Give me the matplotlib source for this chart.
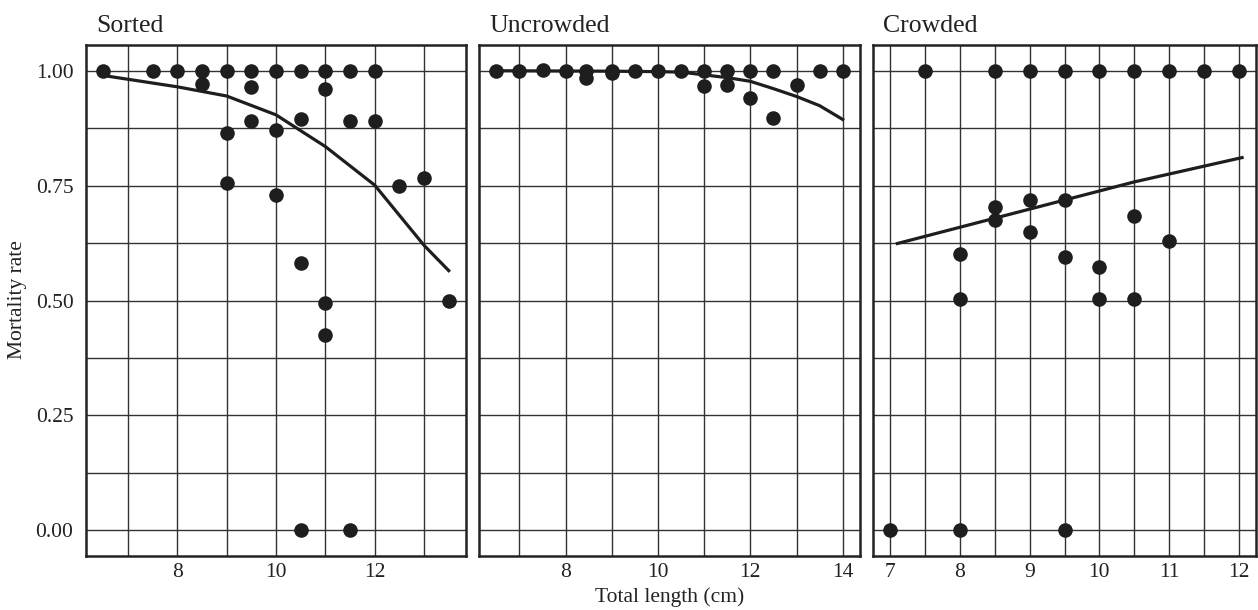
import matplotlib
matplotlib.use("Agg")
import matplotlib.pyplot as plt
import numpy as np

plt.rcParams['font.family'] = ['Liberation Serif', 'DejaVu Serif']

# Sorted
sorted_x = [6.5, 7.5, 8.0, 8.5, 9.0, 9.5, 10.0, 10.5, 11.0, 11.5, 12.0,
            8.5, 9.5, 11.0, 9.5, 10.5, 11.5, 12.0, 9.0, 10.0,
            9.0, 10.0, 12.5, 13.0, 10.5, 11.0, 11.0, 13.5, 10.5, 11.5]
sorted_y = [1.0, 1.0, 1.0, 1.0, 1.0, 1.0, 1.0, 1.0, 1.0, 1.0, 1.0,
            0.971, 0.965, 0.960, 0.890, 0.895, 0.890, 0.890, 0.864, 0.871,
            0.755, 0.729, 0.749, 0.767, 0.582, 0.495, 0.425, 0.499, 0.0, 0.0]
sorted_fit_x = [6.6, 8.0, 9.0, 10.0, 11.0, 12.0, 13.0, 13.5]
sorted_fit_y = [0.988, 0.965, 0.945, 0.904, 0.835, 0.751, 0.620, 0.565]

# Uncrowded
uncrowded_x = [6.5, 7.0, 7.5, 8.0, 8.45, 8.45, 9.0, 9.0, 9.5, 10.0, 10.5,
               11.0, 11.0, 11.5, 11.5, 12.0, 12.0, 12.5, 12.5, 13.0, 13.5, 14.0]
uncrowded_y = [1.0, 1.0, 1.002, 1.0, 1.0, 0.985, 1.0, 0.994, 1.0, 1.0, 1.0,
               1.0, 0.967, 1.0, 0.969, 1.0, 0.940, 1.0, 0.898, 0.969, 1.0, 1.0]
uncrowded_fit_x = [6.5, 9.0, 10.0, 10.5, 11.0, 11.5, 12.0, 12.5, 13.0, 13.5, 14.0]
uncrowded_fit_y = [1.0, 0.999, 0.998, 0.997, 0.991, 0.985, 0.977, 0.961, 0.944, 0.924, 0.894]

# Crowded
crowded_x = [7.5, 8.5, 9.0, 9.5, 10.0, 10.5, 11.0, 11.5, 12.0,
             8.5, 8.5, 9.0, 9.0, 9.5, 8.0, 9.5, 10.0, 10.5, 11.0,
             8.0, 10.0, 10.5, 7.0, 8.0, 9.5]
crowded_y = [1.0, 1.0, 1.0, 1.0, 1.0, 1.0, 1.0, 1.0, 1.0,
             0.703, 0.675, 0.718, 0.648, 0.718, 0.602, 0.594, 0.572, 0.684, 0.630,
             0.503, 0.503, 0.503, 0.0, 0.0, 0.0]
crowded_fit_x = [7.1, 10.5, 12.05]
crowded_fit_y = [0.624, 0.758, 0.811]

panels = [
    ("Sorted", sorted_x, sorted_y, sorted_fit_x, sorted_fit_y, (6.15, 13.85),
     [8, 10, 12], [7, 9, 11, 13]),
    ("Uncrowded", uncrowded_x, uncrowded_y, uncrowded_fit_x, uncrowded_fit_y, (6.125, 14.375),
     [8, 10, 12, 14], [7, 9, 11, 13]),
    ("Crowded", crowded_x, crowded_y, crowded_fit_x, crowded_fit_y, (6.75, 12.25),
     [7, 8, 9, 10, 11, 12], [7.5, 8.5, 9.5, 10.5, 11.5]),
]
lefts = [86, 479, 873]
widths = [380, 381, 383]

W, H = 1258, 610
fig = plt.figure(figsize=(W / 100, H / 100), dpi=100)

for i, (name, xs, ys, fx, fy, xlim, major, minor) in enumerate(panels):
    ax = fig.add_axes([lefts[i] / W, (H - 556) / H, widths[i] / W, 511 / H])
    ax.set_xlim(*xlim)
    ax.set_ylim(-0.056, 1.056)
    ax.set_xticks(major)
    ax.set_xticks(minor, minor=True)
    ax.set_yticks([0, 0.25, 0.5, 0.75, 1.0])
    ax.set_yticks([0.125, 0.375, 0.625, 0.875], minor=True)
    ax.grid(True, which='both', color='#333333', linewidth=1.0)
    ax.set_axisbelow(True)
    ax.tick_params(which='both', length=0, labelsize=15.5, colors='#222222')
    ax.tick_params(axis='x', pad=5)
    ax.tick_params(axis='y', pad=9)
    if i == 0:
        ax.set_yticklabels(['0.00', '0.25', '0.50', '0.75', '1.00'])
    else:
        ax.set_yticklabels([])
    for s in ax.spines.values():
        s.set_color('#222222')
        s.set_linewidth(1.8)
    ax.scatter(xs, ys, s=110, color='#1e1e1e', zorder=3, linewidths=0)
    ax.plot(fx, fy, color='#1e1e1e', linewidth=2.3, zorder=4)
    ax.text(10 / widths[i], 1.025, name, transform=ax.transAxes,
            fontsize=18.5, color='#222222', va='baseline', ha='left')

fig.text(670 / W, 8 / H, "Total length (cm)", ha='center', va='baseline',
         fontsize=15.5, color='#222222')
fig.text(18 / W, 1 - 300 / H, "Mortality rate", ha='center', va='center',
         rotation=90, fontsize=15.5, color='#222222')

fig.savefig("out.png", dpi=100)
